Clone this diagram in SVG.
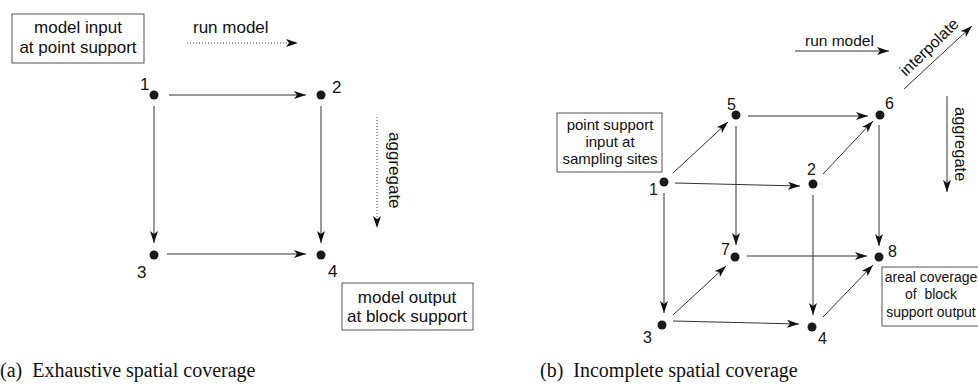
<svg xmlns="http://www.w3.org/2000/svg" width="978" height="388" viewBox="0 0 978 388">
<style>
  .t { font-family: "Liberation Sans", Arial, sans-serif; fill: #111; }
  .ta { font-size: 17px; }
  .tb { font-size: 15px; }
  .num { font-family: "Liberation Sans", Arial, sans-serif; fill: #111; }
  .cap { font-family: "Liberation Serif", "Times New Roman", serif; font-size: 20px; fill: #111; white-space: pre; }
  .pre { white-space: pre; }
  .box { fill: #fff; stroke: #555; stroke-width: 1; }
  .dot { fill: #1a1a1a; }
  .edge { stroke: #333; stroke-width: 1; fill: none; marker-end: url(#ah); }
  .dotted { stroke: #444; stroke-width: 1; fill: none; stroke-dasharray: 1 2; marker-end: url(#ah); }
</style>
<defs>
  <marker id="ah" viewBox="0 0 12 8" refX="12" refY="4" markerWidth="12" markerHeight="8" markerUnits="userSpaceOnUse" orient="auto">
    <path d="M0,0 L12,4 L0,8 L3,4 z" fill="#111"/>
  </marker>
</defs>

<!-- ===== (a) ===== -->
<g id="a-input-box">
  <rect class="box" x="12" y="14" width="132" height="49"/>
  <text class="t ta" x="78" y="33" text-anchor="middle">model input</text>
  <text class="t ta" x="78" y="53" text-anchor="middle">at point support</text>
</g>
<g id="a-runmodel">
  <text class="t ta" x="193" y="33">run model</text>
</g>
<g id="a-aggregate">
  <text class="t ta" transform="translate(389,132) rotate(90)" x="0" y="0">aggregate</text>
</g>
<g id="a-n1"><circle class="dot" cx="154" cy="95" r="4.5"/><text class="num" x="140" y="90" font-size="17">1</text></g>
<g id="a-n2"><circle class="dot" cx="321" cy="95" r="4.5"/><text class="num" x="332" y="93" font-size="17">2</text></g>
<g id="a-n3"><circle class="dot" cx="154" cy="255" r="4.5"/><text class="num" x="137" y="278" font-size="17">3</text></g>
<g id="a-n4"><circle class="dot" cx="321" cy="255" r="4.5"/><text class="num" x="328" y="277" font-size="17">4</text></g>
<g id="a-output-box">
  <rect class="box" x="342" y="283" width="131" height="47"/>
  <text class="t ta" x="407" y="303" text-anchor="middle">model output</text>
  <text class="t ta" x="407" y="322" text-anchor="middle">at block support</text>
</g>
<g id="a-caption"><text class="cap" x="0" y="377">(a)  Exhaustive spatial coverage</text></g>

<!-- ===== (b) ===== -->
<g id="b-runmodel"><text class="t" font-size="15.5" x="805" y="46">run model</text></g>
<g id="b-interpolate"><text class="t" font-size="16" transform="translate(906,77) rotate(-44)">interpolate</text></g>
<g id="b-aggregate"><text class="t" font-size="16.5" transform="translate(955,107) rotate(90)">aggregate</text></g>
<g id="b-input-box">
  <rect class="box" x="557" y="113" width="105" height="59"/>
  <text class="t tb" x="610" y="130" text-anchor="middle">point support</text>
  <text class="t tb" x="610" y="147" text-anchor="middle">input at</text>
  <text class="t tb" x="610" y="164" text-anchor="middle">sampling sites</text>
</g>
<g id="b-n5"><circle class="dot" cx="736" cy="115" r="4.5"/><text class="num" x="727" y="110" font-size="16">5</text></g>
<g id="b-n6"><circle class="dot" cx="880" cy="115" r="4.5"/><text class="num" x="885" y="109" font-size="16">6</text></g>
<g id="b-n1"><circle class="dot" cx="664" cy="182" r="4.5"/><text class="num" x="649" y="195" font-size="16">1</text></g>
<g id="b-n2"><circle class="dot" cx="813" cy="184" r="4.5"/><text class="num" x="807" y="175" font-size="16">2</text></g>
<g id="b-n7"><circle class="dot" cx="735" cy="257" r="4.5"/><text class="num" x="721" y="255" font-size="16">7</text></g>
<g id="b-n8"><circle class="dot" cx="879" cy="257" r="4.5"/><text class="num" x="888" y="257" font-size="16">8</text></g>
<g id="b-n3"><circle class="dot" cx="662" cy="325" r="4.5"/><text class="num" x="643" y="343" font-size="16">3</text></g>
<g id="b-n4"><circle class="dot" cx="812" cy="327" r="4.5"/><text class="num" x="818" y="344" font-size="16">4</text></g>
<g id="b-output-box">
  <rect class="box" x="882" y="267" width="102" height="59"/>
  <text class="t" font-size="14" x="931" y="282" text-anchor="middle">areal coverage</text>
  <text class="t pre" font-size="14" x="931" y="299" text-anchor="middle">of  block</text>
  <text class="t" font-size="14" x="931" y="317" text-anchor="middle">support output</text>
</g>
<g id="b-caption"><text class="cap" x="540" y="377">(b)  Incomplete spatial coverage</text></g>

<!-- ===== connectors ===== -->
<g id="connectors">
  <!-- (a) -->
  <line class="dotted" x1="187" y1="43" x2="298" y2="43"/>
  <line class="dotted" x1="377" y1="117" x2="377" y2="228"/>
  <line class="edge" x1="169" y1="95" x2="306" y2="95"/>
  <line class="edge" x1="154" y1="106" x2="154" y2="243"/>
  <line class="edge" x1="321" y1="106" x2="321" y2="243"/>
  <line class="edge" x1="167" y1="254" x2="306" y2="254"/>
  <!-- (b) labels -->
  <line class="edge" x1="795" y1="51" x2="889" y2="51"/>
  <line class="edge" x1="904" y1="89" x2="972" y2="26"/>
  <line class="edge" x1="947" y1="96" x2="947" y2="192"/>
  <!-- (b) cube -->
  <line class="edge" x1="748" y1="116" x2="868" y2="116"/>
  <line class="edge" x1="673" y1="173" x2="728" y2="122"/>
  <line class="edge" x1="823" y1="174" x2="873" y2="121"/>
  <line class="edge" x1="675" y1="183" x2="800" y2="186"/>
  <line class="edge" x1="736" y1="126" x2="736" y2="245"/>
  <line class="edge" x1="879" y1="125" x2="879" y2="246"/>
  <line class="edge" x1="664" y1="193" x2="664" y2="313"/>
  <line class="edge" x1="813" y1="195" x2="813" y2="315"/>
  <line class="edge" x1="747" y1="256" x2="867" y2="256"/>
  <line class="edge" x1="673" y1="315" x2="726" y2="266"/>
  <line class="edge" x1="673" y1="321" x2="799" y2="324"/>
  <line class="edge" x1="823" y1="317" x2="873" y2="265"/>
</g>
</svg>
